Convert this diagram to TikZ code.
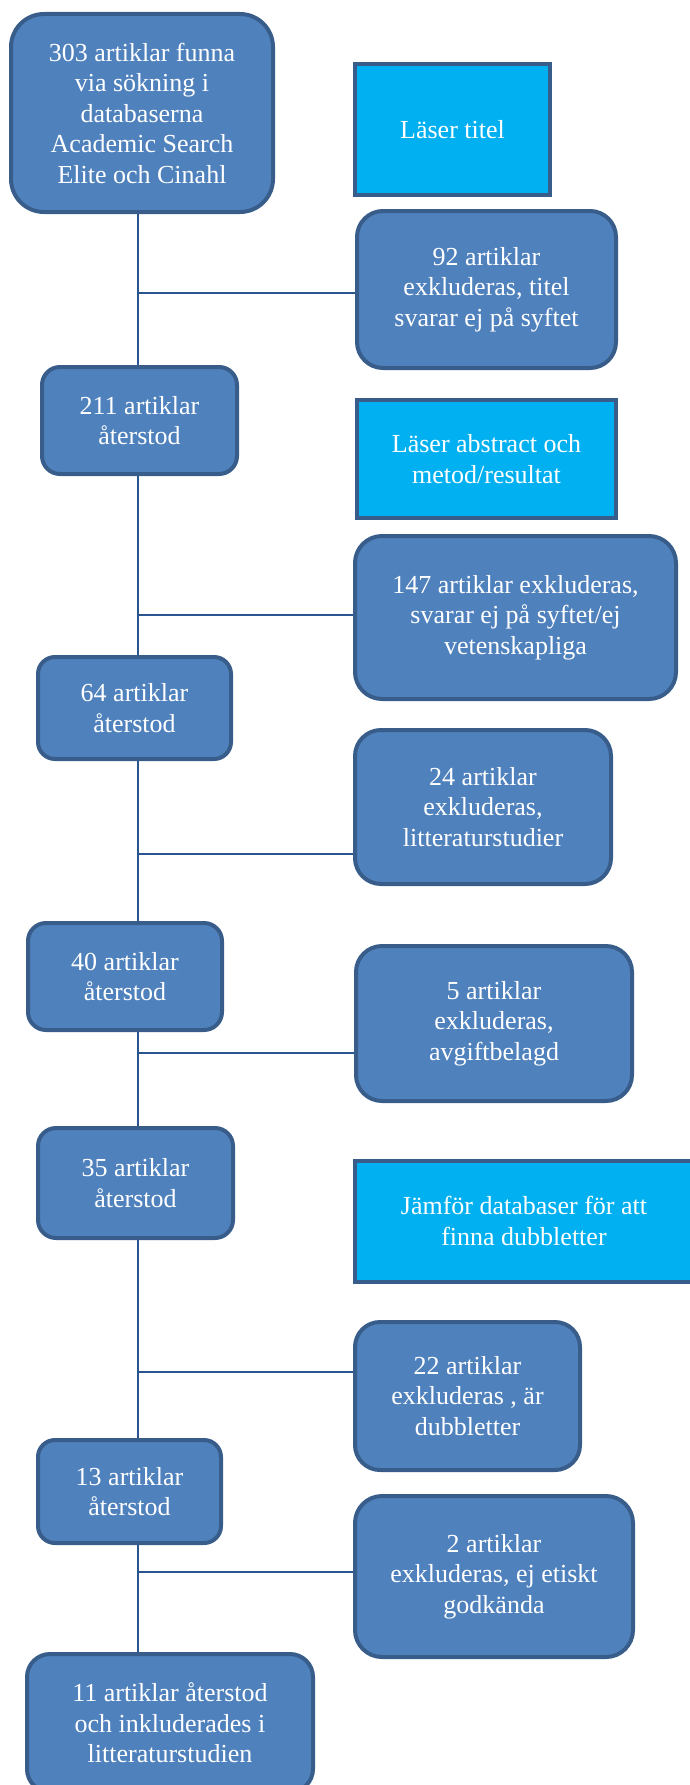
\documentclass[tikz,border=0pt]{standalone}
\usepackage{fontspec}
\setmainfont{Liberation Serif}
\definecolor{boxblau}{HTML}{4F81BD}
\definecolor{randblau}{HTML}{385D8A}
\definecolor{hellblau}{HTML}{00B0F0}
\definecolor{linienblau}{HTML}{2A5590}
\tikzset{
	kasten/.style={draw=randblau, line width=4pt, fill=boxblau, text=white, align=center, inner sep=0pt, rounded corners=#1, font=\fontsize{26}{30.5}\selectfont},
	info/.style={draw=randblau, line width=4pt, fill=hellblau, text=white, align=center, inner sep=0pt, font=\fontsize{26}{30.5}\selectfont},
	linie/.style={draw=linienblau, line width=2pt}
}
\begin{document}
\begin{tikzpicture}[x=1pt,y=-1pt]
	\useasboundingbox (0,0) rectangle (690,1785);
	% linke Spalte
	\node[kasten=33, minimum width=262, minimum height=198] (n303) at (142,113) {303 artiklar funna\\via sökning i\\databaserna\\Academic Search\\Elite och Cinahl};
	\node[kasten=18, minimum width=195, minimum height=107] (n211) at (139.5,420.5) {211 artiklar\\återstod};
	\node[kasten=17, minimum width=193, minimum height=102] (n64) at (134.5,708) {64 artiklar\\återstod};
	\node[kasten=18, minimum width=194, minimum height=107] (n40) at (125,976.5) {40 artiklar\\återstod};
	\node[kasten=18, minimum width=195, minimum height=110] (n35) at (135.5,1183) {35 artiklar\\återstod};
	\node[kasten=17, minimum width=183, minimum height=103] (n13) at (129.5,1491.5) {13 artiklar\\återstod};
	\node[kasten=23, minimum width=286, minimum height=138] (n11) at (170,1723) {11 artiklar återstod\\och inkluderades i\\litteraturstudien};
	% rechte Spalte
	\node[info, minimum width=195, minimum height=131] (titel) at (452.5,129.5) {Läser titel};
	\node[kasten=26, minimum width=259, minimum height=157] (ex92) at (486.5,289.5) {92 artiklar\\exkluderas, titel\\svarar ej på syftet};
	\node[info, minimum width=259, minimum height=118] (abstract) at (486.5,459) {Läser abstract och\\metod/resultat};
	\node[kasten=27, minimum width=321, minimum height=163] (ex147) at (515.5,617.5) {147 artiklar exkluderas,\\svarar ej på syftet/ej\\vetenskapliga};
	\node[kasten=26, minimum width=256, minimum height=154] (ex24) at (483,807) {24 artiklar\\exkluderas,\\litteraturstudier};
	\node[kasten=26, minimum width=276, minimum height=155] (ex5) at (494,1023.5) {5 artiklar\\exkluderas,\\avgiftbelagd};
	\node[info, minimum width=339, minimum height=121] (dubbl) at (524,1221) {Jämför databaser för att\\finna dubbletter};
	\node[kasten=25, minimum width=225, minimum height=148] (ex22) at (467.5,1396) {22 artiklar\\exkluderas , är\\dubbletter};
	\node[kasten=27, minimum width=278, minimum height=161] (ex2) at (494,1576.5) {2 artiklar\\exkluderas, ej etiskt\\godkända};
	% Stamm
	\coordinate (stamm) at (138,0);
	\draw[linie] (n303.south -| stamm) -- (n211.north -| stamm);
	\draw[linie] (n211.south -| stamm) -- (n64.north -| stamm);
	\draw[linie] (n64.south -| stamm) -- (n40.north -| stamm);
	\draw[linie] (n40.south -| stamm) -- (n35.north -| stamm);
	\draw[linie] (n35.south -| stamm) -- (n13.north -| stamm);
	\draw[linie] (n13.south -| stamm) -- (n11.north -| stamm);
	% Abzweigungen
	\coordinate (a92) at (138,293);
	\coordinate (a147) at (138,615);
	\coordinate (a24) at (138,854);
	\coordinate (a5) at (138,1053);
	\coordinate (a22) at (138,1372);
	\coordinate (a2) at (138,1572);
	\draw[linie] (a92) -- (a92 -| ex92.west);
	\draw[linie] (a147) -- (a147 -| ex147.west);
	\draw[linie] (a24) -- (a24 -| ex24.west);
	\draw[linie] (a5) -- (a5 -| ex5.west);
	\draw[linie] (a22) -- (a22 -| ex22.west);
	\draw[linie] (a2) -- (a2 -| ex2.west);
\end{tikzpicture}
\end{document}
